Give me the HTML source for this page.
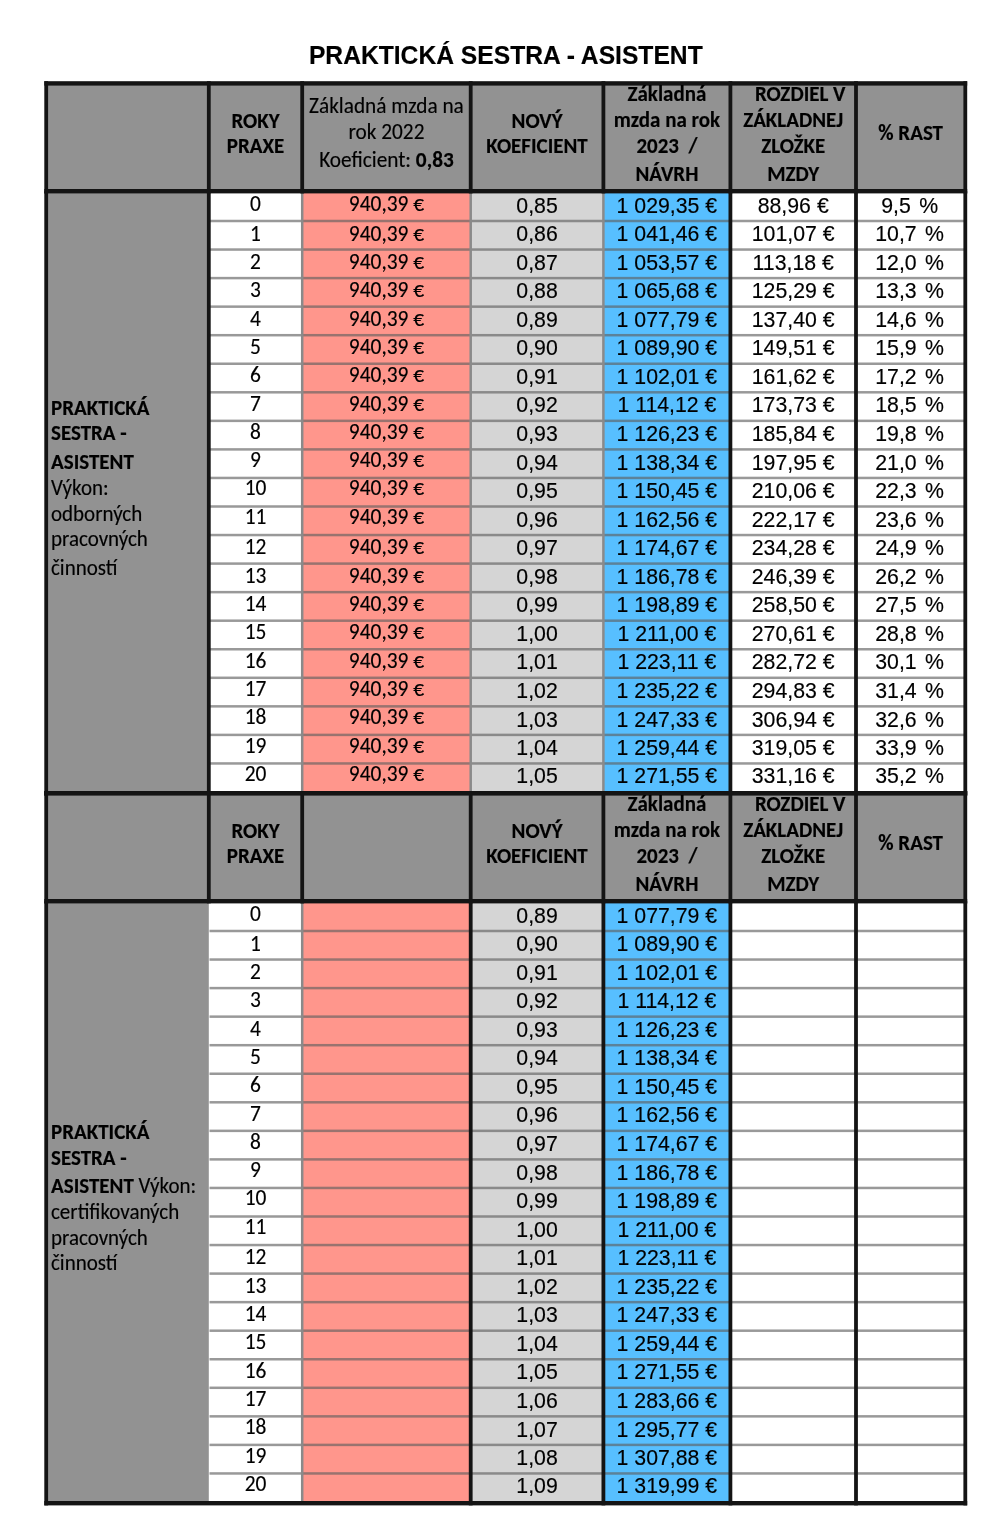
<!DOCTYPE html>
<html lang="sk"><head><meta charset="utf-8"><title>PRAKTICKÁ SESTRA - ASISTENT</title>
<style>
html,body{margin:0;padding:0;background:#fff;}
body{width:1000px;height:1540px;overflow:hidden;}
svg{display:block;filter:blur(0.6px);}
svg text{fill:#000;stroke:#000;stroke-width:0.15px;}
</style></head>
<body>
<svg width="1000" height="1540" viewBox="0 0 1000 1540">
<text textLength="393.81" lengthAdjust="spacingAndGlyphs" transform="translate(505.80 63.60) scale(1 1.06)" font-family="'Liberation Sans', Arial, sans-serif" font-size="24.65" font-weight="700" text-anchor="middle">PRAKTICKÁ SESTRA - ASISTENT</text>
<rect x="46.20" y="83.40" width="919.10" height="107.80" fill="#929292"/>
<rect x="46.20" y="191.20" width="162.60" height="602.00" fill="#929292"/>
<rect x="208.80" y="191.20" width="93.40" height="602.00" fill="#ffffff"/>
<rect x="302.20" y="191.20" width="168.50" height="602.00" fill="#ff968c"/>
<rect x="470.70" y="191.20" width="132.70" height="602.00" fill="#d5d5d5"/>
<rect x="603.40" y="191.20" width="127.00" height="602.00" fill="#57bfff"/>
<rect x="730.40" y="191.20" width="125.60" height="602.00" fill="#ffffff"/>
<rect x="856.00" y="191.20" width="109.30" height="602.00" fill="#ffffff"/>
<rect x="208.80" y="219.75" width="756.50" height="2.50" fill="rgba(95,95,95,0.64)"/>
<rect x="208.80" y="248.30" width="756.50" height="2.50" fill="rgba(95,95,95,0.64)"/>
<rect x="208.80" y="276.85" width="756.50" height="2.50" fill="rgba(95,95,95,0.64)"/>
<rect x="208.80" y="305.40" width="756.50" height="2.50" fill="rgba(95,95,95,0.64)"/>
<rect x="208.80" y="333.95" width="756.50" height="2.50" fill="rgba(95,95,95,0.64)"/>
<rect x="208.80" y="362.50" width="756.50" height="2.50" fill="rgba(95,95,95,0.64)"/>
<rect x="208.80" y="391.05" width="756.50" height="2.50" fill="rgba(95,95,95,0.64)"/>
<rect x="208.80" y="419.60" width="756.50" height="2.50" fill="rgba(95,95,95,0.64)"/>
<rect x="208.80" y="448.15" width="756.50" height="2.50" fill="rgba(95,95,95,0.64)"/>
<rect x="208.80" y="476.70" width="756.50" height="2.50" fill="rgba(95,95,95,0.64)"/>
<rect x="208.80" y="505.25" width="756.50" height="2.50" fill="rgba(95,95,95,0.64)"/>
<rect x="208.80" y="533.80" width="756.50" height="2.50" fill="rgba(95,95,95,0.64)"/>
<rect x="208.80" y="562.35" width="756.50" height="2.50" fill="rgba(95,95,95,0.64)"/>
<rect x="208.80" y="590.90" width="756.50" height="2.50" fill="rgba(95,95,95,0.64)"/>
<rect x="208.80" y="619.45" width="756.50" height="2.50" fill="rgba(95,95,95,0.64)"/>
<rect x="208.80" y="648.00" width="756.50" height="2.50" fill="rgba(95,95,95,0.64)"/>
<rect x="208.80" y="676.55" width="756.50" height="2.50" fill="rgba(95,95,95,0.64)"/>
<rect x="208.80" y="705.10" width="756.50" height="2.50" fill="rgba(95,95,95,0.64)"/>
<rect x="208.80" y="733.65" width="756.50" height="2.50" fill="rgba(95,95,95,0.64)"/>
<rect x="208.80" y="762.20" width="756.50" height="2.50" fill="rgba(95,95,95,0.64)"/>
<rect x="300.95" y="191.20" width="2.50" height="602.00" fill="#8a8a8a"/>
<rect x="469.45" y="191.20" width="2.50" height="602.00" fill="#8a8a8a"/>
<rect x="602.15" y="191.20" width="2.50" height="602.00" fill="#8a8a8a"/>
<rect x="44.30" y="81.20" width="3.80" height="112.20" fill="#141414"/>
<rect x="44.30" y="191.20" width="3.80" height="604.20" fill="#141414"/>
<rect x="206.90" y="81.20" width="3.80" height="112.20" fill="#141414"/>
<rect x="206.90" y="191.20" width="3.80" height="604.20" fill="#141414"/>
<rect x="300.30" y="81.20" width="3.80" height="112.20" fill="#141414"/>
<rect x="468.80" y="81.20" width="3.80" height="112.20" fill="#141414"/>
<rect x="601.50" y="81.20" width="3.80" height="112.20" fill="#141414"/>
<rect x="728.50" y="81.20" width="3.80" height="112.20" fill="#141414"/>
<rect x="728.50" y="191.20" width="3.80" height="604.20" fill="#141414"/>
<rect x="854.10" y="81.20" width="3.80" height="112.20" fill="#141414"/>
<rect x="854.10" y="191.20" width="3.80" height="604.20" fill="#141414"/>
<rect x="963.40" y="81.20" width="3.80" height="112.20" fill="#141414"/>
<rect x="963.40" y="191.20" width="3.80" height="604.20" fill="#141414"/>
<rect x="44.30" y="81.20" width="922.90" height="4.40" fill="#141414"/>
<rect x="44.30" y="189.00" width="922.90" height="4.40" fill="#141414"/>
<rect x="44.30" y="791.00" width="922.90" height="4.40" fill="#141414"/>
<rect x="46.20" y="793.40" width="919.10" height="107.80" fill="#929292"/>
<rect x="46.20" y="901.20" width="163.30" height="602.00" fill="#929292"/>
<rect x="208.80" y="901.20" width="93.40" height="602.00" fill="#ffffff"/>
<rect x="302.20" y="901.20" width="168.50" height="602.00" fill="#ff968c"/>
<rect x="470.70" y="901.20" width="132.70" height="602.00" fill="#d5d5d5"/>
<rect x="603.40" y="901.20" width="127.00" height="602.00" fill="#57bfff"/>
<rect x="730.40" y="901.20" width="125.60" height="602.00" fill="#ffffff"/>
<rect x="856.00" y="901.20" width="109.30" height="602.00" fill="#ffffff"/>
<rect x="209.50" y="929.75" width="755.80" height="2.50" fill="rgba(95,95,95,0.64)"/>
<rect x="209.50" y="958.30" width="755.80" height="2.50" fill="rgba(95,95,95,0.64)"/>
<rect x="209.50" y="986.85" width="755.80" height="2.50" fill="rgba(95,95,95,0.64)"/>
<rect x="209.50" y="1015.40" width="755.80" height="2.50" fill="rgba(95,95,95,0.64)"/>
<rect x="209.50" y="1043.95" width="755.80" height="2.50" fill="rgba(95,95,95,0.64)"/>
<rect x="209.50" y="1072.50" width="755.80" height="2.50" fill="rgba(95,95,95,0.64)"/>
<rect x="209.50" y="1101.05" width="755.80" height="2.50" fill="rgba(95,95,95,0.64)"/>
<rect x="209.50" y="1129.60" width="755.80" height="2.50" fill="rgba(95,95,95,0.64)"/>
<rect x="209.50" y="1158.15" width="755.80" height="2.50" fill="rgba(95,95,95,0.64)"/>
<rect x="209.50" y="1186.70" width="755.80" height="2.50" fill="rgba(95,95,95,0.64)"/>
<rect x="209.50" y="1215.25" width="755.80" height="2.50" fill="rgba(95,95,95,0.64)"/>
<rect x="209.50" y="1243.80" width="755.80" height="2.50" fill="rgba(95,95,95,0.64)"/>
<rect x="209.50" y="1272.35" width="755.80" height="2.50" fill="rgba(95,95,95,0.64)"/>
<rect x="209.50" y="1300.90" width="755.80" height="2.50" fill="rgba(95,95,95,0.64)"/>
<rect x="209.50" y="1329.45" width="755.80" height="2.50" fill="rgba(95,95,95,0.64)"/>
<rect x="209.50" y="1358.00" width="755.80" height="2.50" fill="rgba(95,95,95,0.64)"/>
<rect x="209.50" y="1386.55" width="755.80" height="2.50" fill="rgba(95,95,95,0.64)"/>
<rect x="209.50" y="1415.10" width="755.80" height="2.50" fill="rgba(95,95,95,0.64)"/>
<rect x="209.50" y="1443.65" width="755.80" height="2.50" fill="rgba(95,95,95,0.64)"/>
<rect x="209.50" y="1472.20" width="755.80" height="2.50" fill="rgba(95,95,95,0.64)"/>
<rect x="300.95" y="901.20" width="2.50" height="602.00" fill="#8a8a8a"/>
<rect x="44.30" y="791.20" width="3.80" height="112.20" fill="#141414"/>
<rect x="44.30" y="901.20" width="3.80" height="604.20" fill="#141414"/>
<rect x="206.90" y="791.20" width="3.80" height="112.20" fill="#141414"/>
<rect x="300.30" y="791.20" width="3.80" height="112.20" fill="#141414"/>
<rect x="468.80" y="791.20" width="3.80" height="112.20" fill="#141414"/>
<rect x="468.80" y="901.20" width="3.80" height="604.20" fill="#141414"/>
<rect x="601.50" y="791.20" width="3.80" height="112.20" fill="#141414"/>
<rect x="601.50" y="901.20" width="3.80" height="604.20" fill="#141414"/>
<rect x="728.50" y="791.20" width="3.80" height="112.20" fill="#141414"/>
<rect x="728.50" y="901.20" width="3.80" height="604.20" fill="#141414"/>
<rect x="854.10" y="791.20" width="3.80" height="112.20" fill="#141414"/>
<rect x="854.10" y="901.20" width="3.80" height="604.20" fill="#141414"/>
<rect x="963.40" y="791.20" width="3.80" height="112.20" fill="#141414"/>
<rect x="963.40" y="901.20" width="3.80" height="604.20" fill="#141414"/>
<rect x="44.30" y="791.20" width="922.90" height="4.40" fill="#141414"/>
<rect x="44.30" y="899.00" width="922.90" height="4.40" fill="#141414"/>
<rect x="44.30" y="1501.00" width="922.90" height="4.40" fill="#141414"/>
<text textLength="48.19" lengthAdjust="spacingAndGlyphs" transform="translate(255.50 127.50) scale(1 1.06)" font-family="Carlito, 'Liberation Sans', Arial, sans-serif" font-size="21" font-weight="700" text-anchor="middle">ROKY</text>
<text textLength="57.50" lengthAdjust="spacingAndGlyphs" transform="translate(255.50 153.20) scale(1 1.06)" font-family="Carlito, 'Liberation Sans', Arial, sans-serif" font-size="21" font-weight="700" text-anchor="middle">PRAXE</text>
<text textLength="154.73" lengthAdjust="spacingAndGlyphs" transform="translate(386.45 113.20) scale(1 1.06)" font-family="Carlito, 'Liberation Sans', Arial, sans-serif" font-size="21.3" font-weight="400" text-anchor="middle">Základná mzda na</text>
<text textLength="75.97" lengthAdjust="spacingAndGlyphs" transform="translate(386.45 139.20) scale(1 1.06)" font-family="Carlito, 'Liberation Sans', Arial, sans-serif" font-size="21.3" font-weight="400" text-anchor="middle">rok 2022</text>
<text textLength="134.56" lengthAdjust="spacingAndGlyphs" transform="translate(386.45 167.20) scale(1 1.06)" font-family="Carlito, 'Liberation Sans', Arial, sans-serif" font-size="21.3" text-anchor="middle">Koeficient: <tspan font-weight="700">0,83</tspan></text>
<text textLength="50.98" lengthAdjust="spacingAndGlyphs" transform="translate(537.05 127.50) scale(1 1.06)" font-family="Carlito, 'Liberation Sans', Arial, sans-serif" font-size="21" font-weight="700" text-anchor="middle">NOVÝ</text>
<text textLength="101.37" lengthAdjust="spacingAndGlyphs" transform="translate(537.05 153.20) scale(1 1.06)" font-family="Carlito, 'Liberation Sans', Arial, sans-serif" font-size="21" font-weight="700" text-anchor="middle">KOEFICIENT</text>
<text textLength="78.77" lengthAdjust="spacingAndGlyphs" transform="translate(666.90 101.00) scale(1 1.06)" font-family="Carlito, 'Liberation Sans', Arial, sans-serif" font-size="21" font-weight="700" text-anchor="middle">Základná</text>
<text textLength="106.33" lengthAdjust="spacingAndGlyphs" transform="translate(666.90 126.70) scale(1 1.06)" font-family="Carlito, 'Liberation Sans', Arial, sans-serif" font-size="21" font-weight="700" text-anchor="middle">mzda na rok</text>
<text textLength="61.06" lengthAdjust="spacingAndGlyphs" transform="translate(666.90 152.80) scale(1 1.06)" font-family="Carlito, 'Liberation Sans', Arial, sans-serif" font-size="21" font-weight="700" text-anchor="middle">2023&#160;&#160;/</text>
<text textLength="62.93" lengthAdjust="spacingAndGlyphs" transform="translate(666.90 180.60) scale(1 1.06)" font-family="Carlito, 'Liberation Sans', Arial, sans-serif" font-size="21" font-weight="700" text-anchor="middle">NÁVRH</text>
<text textLength="90.59" lengthAdjust="spacingAndGlyphs" transform="translate(800.20 101.20) scale(1 1.06)" font-family="Carlito, 'Liberation Sans', Arial, sans-serif" font-size="21" font-weight="700" text-anchor="middle">ROZDIEL V</text>
<text textLength="99.91" lengthAdjust="spacingAndGlyphs" transform="translate(793.20 126.60) scale(1 1.06)" font-family="Carlito, 'Liberation Sans', Arial, sans-serif" font-size="21" font-weight="700" text-anchor="middle">ZÁKLADNEJ</text>
<text textLength="64.14" lengthAdjust="spacingAndGlyphs" transform="translate(793.20 153.00) scale(1 1.06)" font-family="Carlito, 'Liberation Sans', Arial, sans-serif" font-size="21" font-weight="700" text-anchor="middle">ZLOŽKE</text>
<text textLength="51.95" lengthAdjust="spacingAndGlyphs" transform="translate(793.20 180.60) scale(1 1.06)" font-family="Carlito, 'Liberation Sans', Arial, sans-serif" font-size="21" font-weight="700" text-anchor="middle">MZDY</text>
<text textLength="64.69" lengthAdjust="spacingAndGlyphs" transform="translate(910.65 139.50) scale(1 1.06)" font-family="Carlito, 'Liberation Sans', Arial, sans-serif" font-size="21" font-weight="700" text-anchor="middle">% RAST</text>
<text textLength="48.19" lengthAdjust="spacingAndGlyphs" transform="translate(255.50 837.50) scale(1 1.06)" font-family="Carlito, 'Liberation Sans', Arial, sans-serif" font-size="21" font-weight="700" text-anchor="middle">ROKY</text>
<text textLength="57.50" lengthAdjust="spacingAndGlyphs" transform="translate(255.50 863.20) scale(1 1.06)" font-family="Carlito, 'Liberation Sans', Arial, sans-serif" font-size="21" font-weight="700" text-anchor="middle">PRAXE</text>
<text textLength="50.98" lengthAdjust="spacingAndGlyphs" transform="translate(537.05 837.50) scale(1 1.06)" font-family="Carlito, 'Liberation Sans', Arial, sans-serif" font-size="21" font-weight="700" text-anchor="middle">NOVÝ</text>
<text textLength="101.37" lengthAdjust="spacingAndGlyphs" transform="translate(537.05 863.20) scale(1 1.06)" font-family="Carlito, 'Liberation Sans', Arial, sans-serif" font-size="21" font-weight="700" text-anchor="middle">KOEFICIENT</text>
<text textLength="78.77" lengthAdjust="spacingAndGlyphs" transform="translate(666.90 811.00) scale(1 1.06)" font-family="Carlito, 'Liberation Sans', Arial, sans-serif" font-size="21" font-weight="700" text-anchor="middle">Základná</text>
<text textLength="106.33" lengthAdjust="spacingAndGlyphs" transform="translate(666.90 836.70) scale(1 1.06)" font-family="Carlito, 'Liberation Sans', Arial, sans-serif" font-size="21" font-weight="700" text-anchor="middle">mzda na rok</text>
<text textLength="61.06" lengthAdjust="spacingAndGlyphs" transform="translate(666.90 862.80) scale(1 1.06)" font-family="Carlito, 'Liberation Sans', Arial, sans-serif" font-size="21" font-weight="700" text-anchor="middle">2023&#160;&#160;/</text>
<text textLength="62.93" lengthAdjust="spacingAndGlyphs" transform="translate(666.90 890.60) scale(1 1.06)" font-family="Carlito, 'Liberation Sans', Arial, sans-serif" font-size="21" font-weight="700" text-anchor="middle">NÁVRH</text>
<text textLength="90.59" lengthAdjust="spacingAndGlyphs" transform="translate(800.20 811.20) scale(1 1.06)" font-family="Carlito, 'Liberation Sans', Arial, sans-serif" font-size="21" font-weight="700" text-anchor="middle">ROZDIEL V</text>
<text textLength="99.91" lengthAdjust="spacingAndGlyphs" transform="translate(793.20 836.60) scale(1 1.06)" font-family="Carlito, 'Liberation Sans', Arial, sans-serif" font-size="21" font-weight="700" text-anchor="middle">ZÁKLADNEJ</text>
<text textLength="64.14" lengthAdjust="spacingAndGlyphs" transform="translate(793.20 863.00) scale(1 1.06)" font-family="Carlito, 'Liberation Sans', Arial, sans-serif" font-size="21" font-weight="700" text-anchor="middle">ZLOŽKE</text>
<text textLength="51.95" lengthAdjust="spacingAndGlyphs" transform="translate(793.20 890.60) scale(1 1.06)" font-family="Carlito, 'Liberation Sans', Arial, sans-serif" font-size="21" font-weight="700" text-anchor="middle">MZDY</text>
<text textLength="64.69" lengthAdjust="spacingAndGlyphs" transform="translate(910.65 849.50) scale(1 1.06)" font-family="Carlito, 'Liberation Sans', Arial, sans-serif" font-size="21" font-weight="700" text-anchor="middle">% RAST</text>
<text textLength="10.86" lengthAdjust="spacingAndGlyphs" transform="translate(255.50 210.50) scale(1 1.06)" font-family="Carlito, 'Liberation Sans', Arial, sans-serif" font-size="21.4" font-weight="400" text-anchor="middle">0</text>
<text textLength="75.24" lengthAdjust="spacingAndGlyphs" transform="translate(386.45 210.50) scale(1 1.06)" font-family="Carlito, 'Liberation Sans', Arial, sans-serif" font-size="21.4" font-weight="400" text-anchor="middle">940,39 €</text>
<text textLength="41.44" lengthAdjust="spacingAndGlyphs" transform="translate(537.05 212.60) scale(1 1.06)" font-family="'Liberation Sans', Arial, sans-serif" font-size="21.3" font-weight="400" text-anchor="middle">0,85</text>
<text textLength="100.64" lengthAdjust="spacingAndGlyphs" transform="translate(666.90 212.60) scale(1 1.06)" font-family="'Liberation Sans', Arial, sans-serif" font-size="21.3" font-weight="400" text-anchor="middle">1 029,35 €</text>
<text textLength="71.04" lengthAdjust="spacingAndGlyphs" transform="translate(793.20 212.60) scale(1 1.06)" font-family="'Liberation Sans', Arial, sans-serif" font-size="21.3" font-weight="400" text-anchor="middle">88,96 €</text>
<text textLength="56.95" lengthAdjust="spacingAndGlyphs" transform="translate(909.65 212.60) scale(1 1.06)" font-family="'Liberation Sans', Arial, sans-serif" font-size="21.3" font-weight="400" text-anchor="middle">9,5 <tspan dx="2.5">%</tspan></text>
<text textLength="10.86" lengthAdjust="spacingAndGlyphs" transform="translate(255.50 920.50) scale(1 1.06)" font-family="Carlito, 'Liberation Sans', Arial, sans-serif" font-size="21.4" font-weight="400" text-anchor="middle">0</text>
<text textLength="41.44" lengthAdjust="spacingAndGlyphs" transform="translate(537.05 922.60) scale(1 1.06)" font-family="'Liberation Sans', Arial, sans-serif" font-size="21.3" font-weight="400" text-anchor="middle">0,89</text>
<text textLength="100.64" lengthAdjust="spacingAndGlyphs" transform="translate(666.90 922.60) scale(1 1.06)" font-family="'Liberation Sans', Arial, sans-serif" font-size="21.3" font-weight="400" text-anchor="middle">1 077,79 €</text>
<text textLength="10.86" lengthAdjust="spacingAndGlyphs" transform="translate(255.50 240.70) scale(1 1.06)" font-family="Carlito, 'Liberation Sans', Arial, sans-serif" font-size="21.4" font-weight="400" text-anchor="middle">1</text>
<text textLength="75.24" lengthAdjust="spacingAndGlyphs" transform="translate(386.45 240.70) scale(1 1.06)" font-family="Carlito, 'Liberation Sans', Arial, sans-serif" font-size="21.4" font-weight="400" text-anchor="middle">940,39 €</text>
<text textLength="41.44" lengthAdjust="spacingAndGlyphs" transform="translate(537.05 241.15) scale(1 1.06)" font-family="'Liberation Sans', Arial, sans-serif" font-size="21.3" font-weight="400" text-anchor="middle">0,86</text>
<text textLength="100.64" lengthAdjust="spacingAndGlyphs" transform="translate(666.90 241.15) scale(1 1.06)" font-family="'Liberation Sans', Arial, sans-serif" font-size="21.3" font-weight="400" text-anchor="middle">1 041,46 €</text>
<text textLength="82.88" lengthAdjust="spacingAndGlyphs" transform="translate(793.20 241.15) scale(1 1.06)" font-family="'Liberation Sans', Arial, sans-serif" font-size="21.3" font-weight="400" text-anchor="middle">101,07 €</text>
<text textLength="68.79" lengthAdjust="spacingAndGlyphs" transform="translate(909.65 241.15) scale(1 1.06)" font-family="'Liberation Sans', Arial, sans-serif" font-size="21.3" font-weight="400" text-anchor="middle">10,7 <tspan dx="2.5">%</tspan></text>
<text textLength="10.86" lengthAdjust="spacingAndGlyphs" transform="translate(255.50 950.70) scale(1 1.06)" font-family="Carlito, 'Liberation Sans', Arial, sans-serif" font-size="21.4" font-weight="400" text-anchor="middle">1</text>
<text textLength="41.44" lengthAdjust="spacingAndGlyphs" transform="translate(537.05 951.15) scale(1 1.06)" font-family="'Liberation Sans', Arial, sans-serif" font-size="21.3" font-weight="400" text-anchor="middle">0,90</text>
<text textLength="100.64" lengthAdjust="spacingAndGlyphs" transform="translate(666.90 951.15) scale(1 1.06)" font-family="'Liberation Sans', Arial, sans-serif" font-size="21.3" font-weight="400" text-anchor="middle">1 089,90 €</text>
<text textLength="10.86" lengthAdjust="spacingAndGlyphs" transform="translate(255.50 269.00) scale(1 1.06)" font-family="Carlito, 'Liberation Sans', Arial, sans-serif" font-size="21.4" font-weight="400" text-anchor="middle">2</text>
<text textLength="75.24" lengthAdjust="spacingAndGlyphs" transform="translate(386.45 269.00) scale(1 1.06)" font-family="Carlito, 'Liberation Sans', Arial, sans-serif" font-size="21.4" font-weight="400" text-anchor="middle">940,39 €</text>
<text textLength="41.44" lengthAdjust="spacingAndGlyphs" transform="translate(537.05 269.70) scale(1 1.06)" font-family="'Liberation Sans', Arial, sans-serif" font-size="21.3" font-weight="400" text-anchor="middle">0,87</text>
<text textLength="100.64" lengthAdjust="spacingAndGlyphs" transform="translate(666.90 269.70) scale(1 1.06)" font-family="'Liberation Sans', Arial, sans-serif" font-size="21.3" font-weight="400" text-anchor="middle">1 053,57 €</text>
<text textLength="81.29" lengthAdjust="spacingAndGlyphs" transform="translate(793.20 269.70) scale(1 1.06)" font-family="'Liberation Sans', Arial, sans-serif" font-size="21.3" font-weight="400" text-anchor="middle">113,18 €</text>
<text textLength="68.79" lengthAdjust="spacingAndGlyphs" transform="translate(909.65 269.70) scale(1 1.06)" font-family="'Liberation Sans', Arial, sans-serif" font-size="21.3" font-weight="400" text-anchor="middle">12,0 <tspan dx="2.5">%</tspan></text>
<text textLength="10.86" lengthAdjust="spacingAndGlyphs" transform="translate(255.50 979.00) scale(1 1.06)" font-family="Carlito, 'Liberation Sans', Arial, sans-serif" font-size="21.4" font-weight="400" text-anchor="middle">2</text>
<text textLength="41.44" lengthAdjust="spacingAndGlyphs" transform="translate(537.05 979.70) scale(1 1.06)" font-family="'Liberation Sans', Arial, sans-serif" font-size="21.3" font-weight="400" text-anchor="middle">0,91</text>
<text textLength="100.64" lengthAdjust="spacingAndGlyphs" transform="translate(666.90 979.70) scale(1 1.06)" font-family="'Liberation Sans', Arial, sans-serif" font-size="21.3" font-weight="400" text-anchor="middle">1 102,01 €</text>
<text textLength="10.86" lengthAdjust="spacingAndGlyphs" transform="translate(255.50 297.30) scale(1 1.06)" font-family="Carlito, 'Liberation Sans', Arial, sans-serif" font-size="21.4" font-weight="400" text-anchor="middle">3</text>
<text textLength="75.24" lengthAdjust="spacingAndGlyphs" transform="translate(386.45 297.30) scale(1 1.06)" font-family="Carlito, 'Liberation Sans', Arial, sans-serif" font-size="21.4" font-weight="400" text-anchor="middle">940,39 €</text>
<text textLength="41.44" lengthAdjust="spacingAndGlyphs" transform="translate(537.05 298.25) scale(1 1.06)" font-family="'Liberation Sans', Arial, sans-serif" font-size="21.3" font-weight="400" text-anchor="middle">0,88</text>
<text textLength="100.64" lengthAdjust="spacingAndGlyphs" transform="translate(666.90 298.25) scale(1 1.06)" font-family="'Liberation Sans', Arial, sans-serif" font-size="21.3" font-weight="400" text-anchor="middle">1 065,68 €</text>
<text textLength="82.88" lengthAdjust="spacingAndGlyphs" transform="translate(793.20 298.25) scale(1 1.06)" font-family="'Liberation Sans', Arial, sans-serif" font-size="21.3" font-weight="400" text-anchor="middle">125,29 €</text>
<text textLength="68.79" lengthAdjust="spacingAndGlyphs" transform="translate(909.65 298.25) scale(1 1.06)" font-family="'Liberation Sans', Arial, sans-serif" font-size="21.3" font-weight="400" text-anchor="middle">13,3 <tspan dx="2.5">%</tspan></text>
<text textLength="10.86" lengthAdjust="spacingAndGlyphs" transform="translate(255.50 1007.30) scale(1 1.06)" font-family="Carlito, 'Liberation Sans', Arial, sans-serif" font-size="21.4" font-weight="400" text-anchor="middle">3</text>
<text textLength="41.44" lengthAdjust="spacingAndGlyphs" transform="translate(537.05 1008.25) scale(1 1.06)" font-family="'Liberation Sans', Arial, sans-serif" font-size="21.3" font-weight="400" text-anchor="middle">0,92</text>
<text textLength="99.05" lengthAdjust="spacingAndGlyphs" transform="translate(666.90 1008.25) scale(1 1.06)" font-family="'Liberation Sans', Arial, sans-serif" font-size="21.3" font-weight="400" text-anchor="middle">1 114,12 €</text>
<text textLength="10.86" lengthAdjust="spacingAndGlyphs" transform="translate(255.50 325.60) scale(1 1.06)" font-family="Carlito, 'Liberation Sans', Arial, sans-serif" font-size="21.4" font-weight="400" text-anchor="middle">4</text>
<text textLength="75.24" lengthAdjust="spacingAndGlyphs" transform="translate(386.45 325.60) scale(1 1.06)" font-family="Carlito, 'Liberation Sans', Arial, sans-serif" font-size="21.4" font-weight="400" text-anchor="middle">940,39 €</text>
<text textLength="41.44" lengthAdjust="spacingAndGlyphs" transform="translate(537.05 326.80) scale(1 1.06)" font-family="'Liberation Sans', Arial, sans-serif" font-size="21.3" font-weight="400" text-anchor="middle">0,89</text>
<text textLength="100.64" lengthAdjust="spacingAndGlyphs" transform="translate(666.90 326.80) scale(1 1.06)" font-family="'Liberation Sans', Arial, sans-serif" font-size="21.3" font-weight="400" text-anchor="middle">1 077,79 €</text>
<text textLength="82.88" lengthAdjust="spacingAndGlyphs" transform="translate(793.20 326.80) scale(1 1.06)" font-family="'Liberation Sans', Arial, sans-serif" font-size="21.3" font-weight="400" text-anchor="middle">137,40 €</text>
<text textLength="68.79" lengthAdjust="spacingAndGlyphs" transform="translate(909.65 326.80) scale(1 1.06)" font-family="'Liberation Sans', Arial, sans-serif" font-size="21.3" font-weight="400" text-anchor="middle">14,6 <tspan dx="2.5">%</tspan></text>
<text textLength="10.86" lengthAdjust="spacingAndGlyphs" transform="translate(255.50 1035.60) scale(1 1.06)" font-family="Carlito, 'Liberation Sans', Arial, sans-serif" font-size="21.4" font-weight="400" text-anchor="middle">4</text>
<text textLength="41.44" lengthAdjust="spacingAndGlyphs" transform="translate(537.05 1036.80) scale(1 1.06)" font-family="'Liberation Sans', Arial, sans-serif" font-size="21.3" font-weight="400" text-anchor="middle">0,93</text>
<text textLength="100.64" lengthAdjust="spacingAndGlyphs" transform="translate(666.90 1036.80) scale(1 1.06)" font-family="'Liberation Sans', Arial, sans-serif" font-size="21.3" font-weight="400" text-anchor="middle">1 126,23 €</text>
<text textLength="10.86" lengthAdjust="spacingAndGlyphs" transform="translate(255.50 353.90) scale(1 1.06)" font-family="Carlito, 'Liberation Sans', Arial, sans-serif" font-size="21.4" font-weight="400" text-anchor="middle">5</text>
<text textLength="75.24" lengthAdjust="spacingAndGlyphs" transform="translate(386.45 353.90) scale(1 1.06)" font-family="Carlito, 'Liberation Sans', Arial, sans-serif" font-size="21.4" font-weight="400" text-anchor="middle">940,39 €</text>
<text textLength="41.44" lengthAdjust="spacingAndGlyphs" transform="translate(537.05 355.35) scale(1 1.06)" font-family="'Liberation Sans', Arial, sans-serif" font-size="21.3" font-weight="400" text-anchor="middle">0,90</text>
<text textLength="100.64" lengthAdjust="spacingAndGlyphs" transform="translate(666.90 355.35) scale(1 1.06)" font-family="'Liberation Sans', Arial, sans-serif" font-size="21.3" font-weight="400" text-anchor="middle">1 089,90 €</text>
<text textLength="82.88" lengthAdjust="spacingAndGlyphs" transform="translate(793.20 355.35) scale(1 1.06)" font-family="'Liberation Sans', Arial, sans-serif" font-size="21.3" font-weight="400" text-anchor="middle">149,51 €</text>
<text textLength="68.79" lengthAdjust="spacingAndGlyphs" transform="translate(909.65 355.35) scale(1 1.06)" font-family="'Liberation Sans', Arial, sans-serif" font-size="21.3" font-weight="400" text-anchor="middle">15,9 <tspan dx="2.5">%</tspan></text>
<text textLength="10.86" lengthAdjust="spacingAndGlyphs" transform="translate(255.50 1063.90) scale(1 1.06)" font-family="Carlito, 'Liberation Sans', Arial, sans-serif" font-size="21.4" font-weight="400" text-anchor="middle">5</text>
<text textLength="41.44" lengthAdjust="spacingAndGlyphs" transform="translate(537.05 1065.35) scale(1 1.06)" font-family="'Liberation Sans', Arial, sans-serif" font-size="21.3" font-weight="400" text-anchor="middle">0,94</text>
<text textLength="100.64" lengthAdjust="spacingAndGlyphs" transform="translate(666.90 1065.35) scale(1 1.06)" font-family="'Liberation Sans', Arial, sans-serif" font-size="21.3" font-weight="400" text-anchor="middle">1 138,34 €</text>
<text textLength="10.86" lengthAdjust="spacingAndGlyphs" transform="translate(255.50 382.20) scale(1 1.06)" font-family="Carlito, 'Liberation Sans', Arial, sans-serif" font-size="21.4" font-weight="400" text-anchor="middle">6</text>
<text textLength="75.24" lengthAdjust="spacingAndGlyphs" transform="translate(386.45 382.20) scale(1 1.06)" font-family="Carlito, 'Liberation Sans', Arial, sans-serif" font-size="21.4" font-weight="400" text-anchor="middle">940,39 €</text>
<text textLength="41.44" lengthAdjust="spacingAndGlyphs" transform="translate(537.05 383.90) scale(1 1.06)" font-family="'Liberation Sans', Arial, sans-serif" font-size="21.3" font-weight="400" text-anchor="middle">0,91</text>
<text textLength="100.64" lengthAdjust="spacingAndGlyphs" transform="translate(666.90 383.90) scale(1 1.06)" font-family="'Liberation Sans', Arial, sans-serif" font-size="21.3" font-weight="400" text-anchor="middle">1 102,01 €</text>
<text textLength="82.88" lengthAdjust="spacingAndGlyphs" transform="translate(793.20 383.90) scale(1 1.06)" font-family="'Liberation Sans', Arial, sans-serif" font-size="21.3" font-weight="400" text-anchor="middle">161,62 €</text>
<text textLength="68.79" lengthAdjust="spacingAndGlyphs" transform="translate(909.65 383.90) scale(1 1.06)" font-family="'Liberation Sans', Arial, sans-serif" font-size="21.3" font-weight="400" text-anchor="middle">17,2 <tspan dx="2.5">%</tspan></text>
<text textLength="10.86" lengthAdjust="spacingAndGlyphs" transform="translate(255.50 1092.20) scale(1 1.06)" font-family="Carlito, 'Liberation Sans', Arial, sans-serif" font-size="21.4" font-weight="400" text-anchor="middle">6</text>
<text textLength="41.44" lengthAdjust="spacingAndGlyphs" transform="translate(537.05 1093.90) scale(1 1.06)" font-family="'Liberation Sans', Arial, sans-serif" font-size="21.3" font-weight="400" text-anchor="middle">0,95</text>
<text textLength="100.64" lengthAdjust="spacingAndGlyphs" transform="translate(666.90 1093.90) scale(1 1.06)" font-family="'Liberation Sans', Arial, sans-serif" font-size="21.3" font-weight="400" text-anchor="middle">1 150,45 €</text>
<text textLength="10.86" lengthAdjust="spacingAndGlyphs" transform="translate(255.50 410.50) scale(1 1.06)" font-family="Carlito, 'Liberation Sans', Arial, sans-serif" font-size="21.4" font-weight="400" text-anchor="middle">7</text>
<text textLength="75.24" lengthAdjust="spacingAndGlyphs" transform="translate(386.45 410.50) scale(1 1.06)" font-family="Carlito, 'Liberation Sans', Arial, sans-serif" font-size="21.4" font-weight="400" text-anchor="middle">940,39 €</text>
<text textLength="41.44" lengthAdjust="spacingAndGlyphs" transform="translate(537.05 412.45) scale(1 1.06)" font-family="'Liberation Sans', Arial, sans-serif" font-size="21.3" font-weight="400" text-anchor="middle">0,92</text>
<text textLength="99.05" lengthAdjust="spacingAndGlyphs" transform="translate(666.90 412.45) scale(1 1.06)" font-family="'Liberation Sans', Arial, sans-serif" font-size="21.3" font-weight="400" text-anchor="middle">1 114,12 €</text>
<text textLength="82.88" lengthAdjust="spacingAndGlyphs" transform="translate(793.20 412.45) scale(1 1.06)" font-family="'Liberation Sans', Arial, sans-serif" font-size="21.3" font-weight="400" text-anchor="middle">173,73 €</text>
<text textLength="68.79" lengthAdjust="spacingAndGlyphs" transform="translate(909.65 412.45) scale(1 1.06)" font-family="'Liberation Sans', Arial, sans-serif" font-size="21.3" font-weight="400" text-anchor="middle">18,5 <tspan dx="2.5">%</tspan></text>
<text textLength="10.86" lengthAdjust="spacingAndGlyphs" transform="translate(255.50 1120.50) scale(1 1.06)" font-family="Carlito, 'Liberation Sans', Arial, sans-serif" font-size="21.4" font-weight="400" text-anchor="middle">7</text>
<text textLength="41.44" lengthAdjust="spacingAndGlyphs" transform="translate(537.05 1122.45) scale(1 1.06)" font-family="'Liberation Sans', Arial, sans-serif" font-size="21.3" font-weight="400" text-anchor="middle">0,96</text>
<text textLength="100.64" lengthAdjust="spacingAndGlyphs" transform="translate(666.90 1122.45) scale(1 1.06)" font-family="'Liberation Sans', Arial, sans-serif" font-size="21.3" font-weight="400" text-anchor="middle">1 162,56 €</text>
<text textLength="10.86" lengthAdjust="spacingAndGlyphs" transform="translate(255.50 438.80) scale(1 1.06)" font-family="Carlito, 'Liberation Sans', Arial, sans-serif" font-size="21.4" font-weight="400" text-anchor="middle">8</text>
<text textLength="75.24" lengthAdjust="spacingAndGlyphs" transform="translate(386.45 438.80) scale(1 1.06)" font-family="Carlito, 'Liberation Sans', Arial, sans-serif" font-size="21.4" font-weight="400" text-anchor="middle">940,39 €</text>
<text textLength="41.44" lengthAdjust="spacingAndGlyphs" transform="translate(537.05 441.00) scale(1 1.06)" font-family="'Liberation Sans', Arial, sans-serif" font-size="21.3" font-weight="400" text-anchor="middle">0,93</text>
<text textLength="100.64" lengthAdjust="spacingAndGlyphs" transform="translate(666.90 441.00) scale(1 1.06)" font-family="'Liberation Sans', Arial, sans-serif" font-size="21.3" font-weight="400" text-anchor="middle">1 126,23 €</text>
<text textLength="82.88" lengthAdjust="spacingAndGlyphs" transform="translate(793.20 441.00) scale(1 1.06)" font-family="'Liberation Sans', Arial, sans-serif" font-size="21.3" font-weight="400" text-anchor="middle">185,84 €</text>
<text textLength="68.79" lengthAdjust="spacingAndGlyphs" transform="translate(909.65 441.00) scale(1 1.06)" font-family="'Liberation Sans', Arial, sans-serif" font-size="21.3" font-weight="400" text-anchor="middle">19,8 <tspan dx="2.5">%</tspan></text>
<text textLength="10.86" lengthAdjust="spacingAndGlyphs" transform="translate(255.50 1148.80) scale(1 1.06)" font-family="Carlito, 'Liberation Sans', Arial, sans-serif" font-size="21.4" font-weight="400" text-anchor="middle">8</text>
<text textLength="41.44" lengthAdjust="spacingAndGlyphs" transform="translate(537.05 1151.00) scale(1 1.06)" font-family="'Liberation Sans', Arial, sans-serif" font-size="21.3" font-weight="400" text-anchor="middle">0,97</text>
<text textLength="100.64" lengthAdjust="spacingAndGlyphs" transform="translate(666.90 1151.00) scale(1 1.06)" font-family="'Liberation Sans', Arial, sans-serif" font-size="21.3" font-weight="400" text-anchor="middle">1 174,67 €</text>
<text textLength="10.86" lengthAdjust="spacingAndGlyphs" transform="translate(255.50 467.10) scale(1 1.06)" font-family="Carlito, 'Liberation Sans', Arial, sans-serif" font-size="21.4" font-weight="400" text-anchor="middle">9</text>
<text textLength="75.24" lengthAdjust="spacingAndGlyphs" transform="translate(386.45 467.10) scale(1 1.06)" font-family="Carlito, 'Liberation Sans', Arial, sans-serif" font-size="21.4" font-weight="400" text-anchor="middle">940,39 €</text>
<text textLength="41.44" lengthAdjust="spacingAndGlyphs" transform="translate(537.05 469.55) scale(1 1.06)" font-family="'Liberation Sans', Arial, sans-serif" font-size="21.3" font-weight="400" text-anchor="middle">0,94</text>
<text textLength="100.64" lengthAdjust="spacingAndGlyphs" transform="translate(666.90 469.55) scale(1 1.06)" font-family="'Liberation Sans', Arial, sans-serif" font-size="21.3" font-weight="400" text-anchor="middle">1 138,34 €</text>
<text textLength="82.88" lengthAdjust="spacingAndGlyphs" transform="translate(793.20 469.55) scale(1 1.06)" font-family="'Liberation Sans', Arial, sans-serif" font-size="21.3" font-weight="400" text-anchor="middle">197,95 €</text>
<text textLength="68.79" lengthAdjust="spacingAndGlyphs" transform="translate(909.65 469.55) scale(1 1.06)" font-family="'Liberation Sans', Arial, sans-serif" font-size="21.3" font-weight="400" text-anchor="middle">21,0 <tspan dx="2.5">%</tspan></text>
<text textLength="10.86" lengthAdjust="spacingAndGlyphs" transform="translate(255.50 1177.10) scale(1 1.06)" font-family="Carlito, 'Liberation Sans', Arial, sans-serif" font-size="21.4" font-weight="400" text-anchor="middle">9</text>
<text textLength="41.44" lengthAdjust="spacingAndGlyphs" transform="translate(537.05 1179.55) scale(1 1.06)" font-family="'Liberation Sans', Arial, sans-serif" font-size="21.3" font-weight="400" text-anchor="middle">0,98</text>
<text textLength="100.64" lengthAdjust="spacingAndGlyphs" transform="translate(666.90 1179.55) scale(1 1.06)" font-family="'Liberation Sans', Arial, sans-serif" font-size="21.3" font-weight="400" text-anchor="middle">1 186,78 €</text>
<text textLength="21.70" lengthAdjust="spacingAndGlyphs" transform="translate(255.50 495.40) scale(1 1.06)" font-family="Carlito, 'Liberation Sans', Arial, sans-serif" font-size="21.4" font-weight="400" text-anchor="middle">10</text>
<text textLength="75.24" lengthAdjust="spacingAndGlyphs" transform="translate(386.45 495.40) scale(1 1.06)" font-family="Carlito, 'Liberation Sans', Arial, sans-serif" font-size="21.4" font-weight="400" text-anchor="middle">940,39 €</text>
<text textLength="41.44" lengthAdjust="spacingAndGlyphs" transform="translate(537.05 498.10) scale(1 1.06)" font-family="'Liberation Sans', Arial, sans-serif" font-size="21.3" font-weight="400" text-anchor="middle">0,95</text>
<text textLength="100.64" lengthAdjust="spacingAndGlyphs" transform="translate(666.90 498.10) scale(1 1.06)" font-family="'Liberation Sans', Arial, sans-serif" font-size="21.3" font-weight="400" text-anchor="middle">1 150,45 €</text>
<text textLength="82.88" lengthAdjust="spacingAndGlyphs" transform="translate(793.20 498.10) scale(1 1.06)" font-family="'Liberation Sans', Arial, sans-serif" font-size="21.3" font-weight="400" text-anchor="middle">210,06 €</text>
<text textLength="68.79" lengthAdjust="spacingAndGlyphs" transform="translate(909.65 498.10) scale(1 1.06)" font-family="'Liberation Sans', Arial, sans-serif" font-size="21.3" font-weight="400" text-anchor="middle">22,3 <tspan dx="2.5">%</tspan></text>
<text textLength="21.70" lengthAdjust="spacingAndGlyphs" transform="translate(255.50 1205.40) scale(1 1.06)" font-family="Carlito, 'Liberation Sans', Arial, sans-serif" font-size="21.4" font-weight="400" text-anchor="middle">10</text>
<text textLength="41.44" lengthAdjust="spacingAndGlyphs" transform="translate(537.05 1208.10) scale(1 1.06)" font-family="'Liberation Sans', Arial, sans-serif" font-size="21.3" font-weight="400" text-anchor="middle">0,99</text>
<text textLength="100.64" lengthAdjust="spacingAndGlyphs" transform="translate(666.90 1208.10) scale(1 1.06)" font-family="'Liberation Sans', Arial, sans-serif" font-size="21.3" font-weight="400" text-anchor="middle">1 198,89 €</text>
<text textLength="21.70" lengthAdjust="spacingAndGlyphs" transform="translate(255.50 523.70) scale(1 1.06)" font-family="Carlito, 'Liberation Sans', Arial, sans-serif" font-size="21.4" font-weight="400" text-anchor="middle">11</text>
<text textLength="75.24" lengthAdjust="spacingAndGlyphs" transform="translate(386.45 523.70) scale(1 1.06)" font-family="Carlito, 'Liberation Sans', Arial, sans-serif" font-size="21.4" font-weight="400" text-anchor="middle">940,39 €</text>
<text textLength="41.44" lengthAdjust="spacingAndGlyphs" transform="translate(537.05 526.65) scale(1 1.06)" font-family="'Liberation Sans', Arial, sans-serif" font-size="21.3" font-weight="400" text-anchor="middle">0,96</text>
<text textLength="100.64" lengthAdjust="spacingAndGlyphs" transform="translate(666.90 526.65) scale(1 1.06)" font-family="'Liberation Sans', Arial, sans-serif" font-size="21.3" font-weight="400" text-anchor="middle">1 162,56 €</text>
<text textLength="82.88" lengthAdjust="spacingAndGlyphs" transform="translate(793.20 526.65) scale(1 1.06)" font-family="'Liberation Sans', Arial, sans-serif" font-size="21.3" font-weight="400" text-anchor="middle">222,17 €</text>
<text textLength="68.79" lengthAdjust="spacingAndGlyphs" transform="translate(909.65 526.65) scale(1 1.06)" font-family="'Liberation Sans', Arial, sans-serif" font-size="21.3" font-weight="400" text-anchor="middle">23,6 <tspan dx="2.5">%</tspan></text>
<text textLength="21.70" lengthAdjust="spacingAndGlyphs" transform="translate(255.50 1233.70) scale(1 1.06)" font-family="Carlito, 'Liberation Sans', Arial, sans-serif" font-size="21.4" font-weight="400" text-anchor="middle">11</text>
<text textLength="41.44" lengthAdjust="spacingAndGlyphs" transform="translate(537.05 1236.65) scale(1 1.06)" font-family="'Liberation Sans', Arial, sans-serif" font-size="21.3" font-weight="400" text-anchor="middle">1,00</text>
<text textLength="99.05" lengthAdjust="spacingAndGlyphs" transform="translate(666.90 1236.65) scale(1 1.06)" font-family="'Liberation Sans', Arial, sans-serif" font-size="21.3" font-weight="400" text-anchor="middle">1 211,00 €</text>
<text textLength="21.70" lengthAdjust="spacingAndGlyphs" transform="translate(255.50 554.40) scale(1 1.06)" font-family="Carlito, 'Liberation Sans', Arial, sans-serif" font-size="21.4" font-weight="400" text-anchor="middle">12</text>
<text textLength="75.24" lengthAdjust="spacingAndGlyphs" transform="translate(386.45 554.40) scale(1 1.06)" font-family="Carlito, 'Liberation Sans', Arial, sans-serif" font-size="21.4" font-weight="400" text-anchor="middle">940,39 €</text>
<text textLength="41.44" lengthAdjust="spacingAndGlyphs" transform="translate(537.05 555.20) scale(1 1.06)" font-family="'Liberation Sans', Arial, sans-serif" font-size="21.3" font-weight="400" text-anchor="middle">0,97</text>
<text textLength="100.64" lengthAdjust="spacingAndGlyphs" transform="translate(666.90 555.20) scale(1 1.06)" font-family="'Liberation Sans', Arial, sans-serif" font-size="21.3" font-weight="400" text-anchor="middle">1 174,67 €</text>
<text textLength="82.88" lengthAdjust="spacingAndGlyphs" transform="translate(793.20 555.20) scale(1 1.06)" font-family="'Liberation Sans', Arial, sans-serif" font-size="21.3" font-weight="400" text-anchor="middle">234,28 €</text>
<text textLength="68.79" lengthAdjust="spacingAndGlyphs" transform="translate(909.65 555.20) scale(1 1.06)" font-family="'Liberation Sans', Arial, sans-serif" font-size="21.3" font-weight="400" text-anchor="middle">24,9 <tspan dx="2.5">%</tspan></text>
<text textLength="21.70" lengthAdjust="spacingAndGlyphs" transform="translate(255.50 1264.40) scale(1 1.06)" font-family="Carlito, 'Liberation Sans', Arial, sans-serif" font-size="21.4" font-weight="400" text-anchor="middle">12</text>
<text textLength="41.44" lengthAdjust="spacingAndGlyphs" transform="translate(537.05 1265.20) scale(1 1.06)" font-family="'Liberation Sans', Arial, sans-serif" font-size="21.3" font-weight="400" text-anchor="middle">1,01</text>
<text textLength="99.05" lengthAdjust="spacingAndGlyphs" transform="translate(666.90 1265.20) scale(1 1.06)" font-family="'Liberation Sans', Arial, sans-serif" font-size="21.3" font-weight="400" text-anchor="middle">1 223,11 €</text>
<text textLength="21.70" lengthAdjust="spacingAndGlyphs" transform="translate(255.50 582.70) scale(1 1.06)" font-family="Carlito, 'Liberation Sans', Arial, sans-serif" font-size="21.4" font-weight="400" text-anchor="middle">13</text>
<text textLength="75.24" lengthAdjust="spacingAndGlyphs" transform="translate(386.45 582.70) scale(1 1.06)" font-family="Carlito, 'Liberation Sans', Arial, sans-serif" font-size="21.4" font-weight="400" text-anchor="middle">940,39 €</text>
<text textLength="41.44" lengthAdjust="spacingAndGlyphs" transform="translate(537.05 583.75) scale(1 1.06)" font-family="'Liberation Sans', Arial, sans-serif" font-size="21.3" font-weight="400" text-anchor="middle">0,98</text>
<text textLength="100.64" lengthAdjust="spacingAndGlyphs" transform="translate(666.90 583.75) scale(1 1.06)" font-family="'Liberation Sans', Arial, sans-serif" font-size="21.3" font-weight="400" text-anchor="middle">1 186,78 €</text>
<text textLength="82.88" lengthAdjust="spacingAndGlyphs" transform="translate(793.20 583.75) scale(1 1.06)" font-family="'Liberation Sans', Arial, sans-serif" font-size="21.3" font-weight="400" text-anchor="middle">246,39 €</text>
<text textLength="68.79" lengthAdjust="spacingAndGlyphs" transform="translate(909.65 583.75) scale(1 1.06)" font-family="'Liberation Sans', Arial, sans-serif" font-size="21.3" font-weight="400" text-anchor="middle">26,2 <tspan dx="2.5">%</tspan></text>
<text textLength="21.70" lengthAdjust="spacingAndGlyphs" transform="translate(255.50 1292.70) scale(1 1.06)" font-family="Carlito, 'Liberation Sans', Arial, sans-serif" font-size="21.4" font-weight="400" text-anchor="middle">13</text>
<text textLength="41.44" lengthAdjust="spacingAndGlyphs" transform="translate(537.05 1293.75) scale(1 1.06)" font-family="'Liberation Sans', Arial, sans-serif" font-size="21.3" font-weight="400" text-anchor="middle">1,02</text>
<text textLength="100.64" lengthAdjust="spacingAndGlyphs" transform="translate(666.90 1293.75) scale(1 1.06)" font-family="'Liberation Sans', Arial, sans-serif" font-size="21.3" font-weight="400" text-anchor="middle">1 235,22 €</text>
<text textLength="21.70" lengthAdjust="spacingAndGlyphs" transform="translate(255.50 611.00) scale(1 1.06)" font-family="Carlito, 'Liberation Sans', Arial, sans-serif" font-size="21.4" font-weight="400" text-anchor="middle">14</text>
<text textLength="75.24" lengthAdjust="spacingAndGlyphs" transform="translate(386.45 611.00) scale(1 1.06)" font-family="Carlito, 'Liberation Sans', Arial, sans-serif" font-size="21.4" font-weight="400" text-anchor="middle">940,39 €</text>
<text textLength="41.44" lengthAdjust="spacingAndGlyphs" transform="translate(537.05 612.30) scale(1 1.06)" font-family="'Liberation Sans', Arial, sans-serif" font-size="21.3" font-weight="400" text-anchor="middle">0,99</text>
<text textLength="100.64" lengthAdjust="spacingAndGlyphs" transform="translate(666.90 612.30) scale(1 1.06)" font-family="'Liberation Sans', Arial, sans-serif" font-size="21.3" font-weight="400" text-anchor="middle">1 198,89 €</text>
<text textLength="82.88" lengthAdjust="spacingAndGlyphs" transform="translate(793.20 612.30) scale(1 1.06)" font-family="'Liberation Sans', Arial, sans-serif" font-size="21.3" font-weight="400" text-anchor="middle">258,50 €</text>
<text textLength="68.79" lengthAdjust="spacingAndGlyphs" transform="translate(909.65 612.30) scale(1 1.06)" font-family="'Liberation Sans', Arial, sans-serif" font-size="21.3" font-weight="400" text-anchor="middle">27,5 <tspan dx="2.5">%</tspan></text>
<text textLength="21.70" lengthAdjust="spacingAndGlyphs" transform="translate(255.50 1321.00) scale(1 1.06)" font-family="Carlito, 'Liberation Sans', Arial, sans-serif" font-size="21.4" font-weight="400" text-anchor="middle">14</text>
<text textLength="41.44" lengthAdjust="spacingAndGlyphs" transform="translate(537.05 1322.30) scale(1 1.06)" font-family="'Liberation Sans', Arial, sans-serif" font-size="21.3" font-weight="400" text-anchor="middle">1,03</text>
<text textLength="100.64" lengthAdjust="spacingAndGlyphs" transform="translate(666.90 1322.30) scale(1 1.06)" font-family="'Liberation Sans', Arial, sans-serif" font-size="21.3" font-weight="400" text-anchor="middle">1 247,33 €</text>
<text textLength="21.70" lengthAdjust="spacingAndGlyphs" transform="translate(255.50 639.30) scale(1 1.06)" font-family="Carlito, 'Liberation Sans', Arial, sans-serif" font-size="21.4" font-weight="400" text-anchor="middle">15</text>
<text textLength="75.24" lengthAdjust="spacingAndGlyphs" transform="translate(386.45 639.30) scale(1 1.06)" font-family="Carlito, 'Liberation Sans', Arial, sans-serif" font-size="21.4" font-weight="400" text-anchor="middle">940,39 €</text>
<text textLength="41.44" lengthAdjust="spacingAndGlyphs" transform="translate(537.05 640.85) scale(1 1.06)" font-family="'Liberation Sans', Arial, sans-serif" font-size="21.3" font-weight="400" text-anchor="middle">1,00</text>
<text textLength="99.05" lengthAdjust="spacingAndGlyphs" transform="translate(666.90 640.85) scale(1 1.06)" font-family="'Liberation Sans', Arial, sans-serif" font-size="21.3" font-weight="400" text-anchor="middle">1 211,00 €</text>
<text textLength="82.88" lengthAdjust="spacingAndGlyphs" transform="translate(793.20 640.85) scale(1 1.06)" font-family="'Liberation Sans', Arial, sans-serif" font-size="21.3" font-weight="400" text-anchor="middle">270,61 €</text>
<text textLength="68.79" lengthAdjust="spacingAndGlyphs" transform="translate(909.65 640.85) scale(1 1.06)" font-family="'Liberation Sans', Arial, sans-serif" font-size="21.3" font-weight="400" text-anchor="middle">28,8 <tspan dx="2.5">%</tspan></text>
<text textLength="21.70" lengthAdjust="spacingAndGlyphs" transform="translate(255.50 1349.30) scale(1 1.06)" font-family="Carlito, 'Liberation Sans', Arial, sans-serif" font-size="21.4" font-weight="400" text-anchor="middle">15</text>
<text textLength="41.44" lengthAdjust="spacingAndGlyphs" transform="translate(537.05 1350.85) scale(1 1.06)" font-family="'Liberation Sans', Arial, sans-serif" font-size="21.3" font-weight="400" text-anchor="middle">1,04</text>
<text textLength="100.64" lengthAdjust="spacingAndGlyphs" transform="translate(666.90 1350.85) scale(1 1.06)" font-family="'Liberation Sans', Arial, sans-serif" font-size="21.3" font-weight="400" text-anchor="middle">1 259,44 €</text>
<text textLength="21.70" lengthAdjust="spacingAndGlyphs" transform="translate(255.50 667.60) scale(1 1.06)" font-family="Carlito, 'Liberation Sans', Arial, sans-serif" font-size="21.4" font-weight="400" text-anchor="middle">16</text>
<text textLength="75.24" lengthAdjust="spacingAndGlyphs" transform="translate(386.45 667.60) scale(1 1.06)" font-family="Carlito, 'Liberation Sans', Arial, sans-serif" font-size="21.4" font-weight="400" text-anchor="middle">940,39 €</text>
<text textLength="41.44" lengthAdjust="spacingAndGlyphs" transform="translate(537.05 669.40) scale(1 1.06)" font-family="'Liberation Sans', Arial, sans-serif" font-size="21.3" font-weight="400" text-anchor="middle">1,01</text>
<text textLength="99.05" lengthAdjust="spacingAndGlyphs" transform="translate(666.90 669.40) scale(1 1.06)" font-family="'Liberation Sans', Arial, sans-serif" font-size="21.3" font-weight="400" text-anchor="middle">1 223,11 €</text>
<text textLength="82.88" lengthAdjust="spacingAndGlyphs" transform="translate(793.20 669.40) scale(1 1.06)" font-family="'Liberation Sans', Arial, sans-serif" font-size="21.3" font-weight="400" text-anchor="middle">282,72 €</text>
<text textLength="68.79" lengthAdjust="spacingAndGlyphs" transform="translate(909.65 669.40) scale(1 1.06)" font-family="'Liberation Sans', Arial, sans-serif" font-size="21.3" font-weight="400" text-anchor="middle">30,1 <tspan dx="2.5">%</tspan></text>
<text textLength="21.70" lengthAdjust="spacingAndGlyphs" transform="translate(255.50 1377.60) scale(1 1.06)" font-family="Carlito, 'Liberation Sans', Arial, sans-serif" font-size="21.4" font-weight="400" text-anchor="middle">16</text>
<text textLength="41.44" lengthAdjust="spacingAndGlyphs" transform="translate(537.05 1379.40) scale(1 1.06)" font-family="'Liberation Sans', Arial, sans-serif" font-size="21.3" font-weight="400" text-anchor="middle">1,05</text>
<text textLength="100.64" lengthAdjust="spacingAndGlyphs" transform="translate(666.90 1379.40) scale(1 1.06)" font-family="'Liberation Sans', Arial, sans-serif" font-size="21.3" font-weight="400" text-anchor="middle">1 271,55 €</text>
<text textLength="21.70" lengthAdjust="spacingAndGlyphs" transform="translate(255.50 695.90) scale(1 1.06)" font-family="Carlito, 'Liberation Sans', Arial, sans-serif" font-size="21.4" font-weight="400" text-anchor="middle">17</text>
<text textLength="75.24" lengthAdjust="spacingAndGlyphs" transform="translate(386.45 695.90) scale(1 1.06)" font-family="Carlito, 'Liberation Sans', Arial, sans-serif" font-size="21.4" font-weight="400" text-anchor="middle">940,39 €</text>
<text textLength="41.44" lengthAdjust="spacingAndGlyphs" transform="translate(537.05 697.95) scale(1 1.06)" font-family="'Liberation Sans', Arial, sans-serif" font-size="21.3" font-weight="400" text-anchor="middle">1,02</text>
<text textLength="100.64" lengthAdjust="spacingAndGlyphs" transform="translate(666.90 697.95) scale(1 1.06)" font-family="'Liberation Sans', Arial, sans-serif" font-size="21.3" font-weight="400" text-anchor="middle">1 235,22 €</text>
<text textLength="82.88" lengthAdjust="spacingAndGlyphs" transform="translate(793.20 697.95) scale(1 1.06)" font-family="'Liberation Sans', Arial, sans-serif" font-size="21.3" font-weight="400" text-anchor="middle">294,83 €</text>
<text textLength="68.79" lengthAdjust="spacingAndGlyphs" transform="translate(909.65 697.95) scale(1 1.06)" font-family="'Liberation Sans', Arial, sans-serif" font-size="21.3" font-weight="400" text-anchor="middle">31,4 <tspan dx="2.5">%</tspan></text>
<text textLength="21.70" lengthAdjust="spacingAndGlyphs" transform="translate(255.50 1405.90) scale(1 1.06)" font-family="Carlito, 'Liberation Sans', Arial, sans-serif" font-size="21.4" font-weight="400" text-anchor="middle">17</text>
<text textLength="41.44" lengthAdjust="spacingAndGlyphs" transform="translate(537.05 1407.95) scale(1 1.06)" font-family="'Liberation Sans', Arial, sans-serif" font-size="21.3" font-weight="400" text-anchor="middle">1,06</text>
<text textLength="100.64" lengthAdjust="spacingAndGlyphs" transform="translate(666.90 1407.95) scale(1 1.06)" font-family="'Liberation Sans', Arial, sans-serif" font-size="21.3" font-weight="400" text-anchor="middle">1 283,66 €</text>
<text textLength="21.70" lengthAdjust="spacingAndGlyphs" transform="translate(255.50 724.20) scale(1 1.06)" font-family="Carlito, 'Liberation Sans', Arial, sans-serif" font-size="21.4" font-weight="400" text-anchor="middle">18</text>
<text textLength="75.24" lengthAdjust="spacingAndGlyphs" transform="translate(386.45 724.20) scale(1 1.06)" font-family="Carlito, 'Liberation Sans', Arial, sans-serif" font-size="21.4" font-weight="400" text-anchor="middle">940,39 €</text>
<text textLength="41.44" lengthAdjust="spacingAndGlyphs" transform="translate(537.05 726.50) scale(1 1.06)" font-family="'Liberation Sans', Arial, sans-serif" font-size="21.3" font-weight="400" text-anchor="middle">1,03</text>
<text textLength="100.64" lengthAdjust="spacingAndGlyphs" transform="translate(666.90 726.50) scale(1 1.06)" font-family="'Liberation Sans', Arial, sans-serif" font-size="21.3" font-weight="400" text-anchor="middle">1 247,33 €</text>
<text textLength="82.88" lengthAdjust="spacingAndGlyphs" transform="translate(793.20 726.50) scale(1 1.06)" font-family="'Liberation Sans', Arial, sans-serif" font-size="21.3" font-weight="400" text-anchor="middle">306,94 €</text>
<text textLength="68.79" lengthAdjust="spacingAndGlyphs" transform="translate(909.65 726.50) scale(1 1.06)" font-family="'Liberation Sans', Arial, sans-serif" font-size="21.3" font-weight="400" text-anchor="middle">32,6 <tspan dx="2.5">%</tspan></text>
<text textLength="21.70" lengthAdjust="spacingAndGlyphs" transform="translate(255.50 1434.20) scale(1 1.06)" font-family="Carlito, 'Liberation Sans', Arial, sans-serif" font-size="21.4" font-weight="400" text-anchor="middle">18</text>
<text textLength="41.44" lengthAdjust="spacingAndGlyphs" transform="translate(537.05 1436.50) scale(1 1.06)" font-family="'Liberation Sans', Arial, sans-serif" font-size="21.3" font-weight="400" text-anchor="middle">1,07</text>
<text textLength="100.64" lengthAdjust="spacingAndGlyphs" transform="translate(666.90 1436.50) scale(1 1.06)" font-family="'Liberation Sans', Arial, sans-serif" font-size="21.3" font-weight="400" text-anchor="middle">1 295,77 €</text>
<text textLength="21.70" lengthAdjust="spacingAndGlyphs" transform="translate(255.50 752.50) scale(1 1.06)" font-family="Carlito, 'Liberation Sans', Arial, sans-serif" font-size="21.4" font-weight="400" text-anchor="middle">19</text>
<text textLength="75.24" lengthAdjust="spacingAndGlyphs" transform="translate(386.45 752.50) scale(1 1.06)" font-family="Carlito, 'Liberation Sans', Arial, sans-serif" font-size="21.4" font-weight="400" text-anchor="middle">940,39 €</text>
<text textLength="41.44" lengthAdjust="spacingAndGlyphs" transform="translate(537.05 755.05) scale(1 1.06)" font-family="'Liberation Sans', Arial, sans-serif" font-size="21.3" font-weight="400" text-anchor="middle">1,04</text>
<text textLength="100.64" lengthAdjust="spacingAndGlyphs" transform="translate(666.90 755.05) scale(1 1.06)" font-family="'Liberation Sans', Arial, sans-serif" font-size="21.3" font-weight="400" text-anchor="middle">1 259,44 €</text>
<text textLength="82.88" lengthAdjust="spacingAndGlyphs" transform="translate(793.20 755.05) scale(1 1.06)" font-family="'Liberation Sans', Arial, sans-serif" font-size="21.3" font-weight="400" text-anchor="middle">319,05 €</text>
<text textLength="68.79" lengthAdjust="spacingAndGlyphs" transform="translate(909.65 755.05) scale(1 1.06)" font-family="'Liberation Sans', Arial, sans-serif" font-size="21.3" font-weight="400" text-anchor="middle">33,9 <tspan dx="2.5">%</tspan></text>
<text textLength="21.70" lengthAdjust="spacingAndGlyphs" transform="translate(255.50 1462.50) scale(1 1.06)" font-family="Carlito, 'Liberation Sans', Arial, sans-serif" font-size="21.4" font-weight="400" text-anchor="middle">19</text>
<text textLength="41.44" lengthAdjust="spacingAndGlyphs" transform="translate(537.05 1465.05) scale(1 1.06)" font-family="'Liberation Sans', Arial, sans-serif" font-size="21.3" font-weight="400" text-anchor="middle">1,08</text>
<text textLength="100.64" lengthAdjust="spacingAndGlyphs" transform="translate(666.90 1465.05) scale(1 1.06)" font-family="'Liberation Sans', Arial, sans-serif" font-size="21.3" font-weight="400" text-anchor="middle">1 307,88 €</text>
<text textLength="21.70" lengthAdjust="spacingAndGlyphs" transform="translate(255.50 780.80) scale(1 1.06)" font-family="Carlito, 'Liberation Sans', Arial, sans-serif" font-size="21.4" font-weight="400" text-anchor="middle">20</text>
<text textLength="75.24" lengthAdjust="spacingAndGlyphs" transform="translate(386.45 780.80) scale(1 1.06)" font-family="Carlito, 'Liberation Sans', Arial, sans-serif" font-size="21.4" font-weight="400" text-anchor="middle">940,39 €</text>
<text textLength="41.44" lengthAdjust="spacingAndGlyphs" transform="translate(537.05 783.00) scale(1 1.06)" font-family="'Liberation Sans', Arial, sans-serif" font-size="21.3" font-weight="400" text-anchor="middle">1,05</text>
<text textLength="100.64" lengthAdjust="spacingAndGlyphs" transform="translate(666.90 783.00) scale(1 1.06)" font-family="'Liberation Sans', Arial, sans-serif" font-size="21.3" font-weight="400" text-anchor="middle">1 271,55 €</text>
<text textLength="82.88" lengthAdjust="spacingAndGlyphs" transform="translate(793.20 783.00) scale(1 1.06)" font-family="'Liberation Sans', Arial, sans-serif" font-size="21.3" font-weight="400" text-anchor="middle">331,16 €</text>
<text textLength="68.79" lengthAdjust="spacingAndGlyphs" transform="translate(909.65 783.00) scale(1 1.06)" font-family="'Liberation Sans', Arial, sans-serif" font-size="21.3" font-weight="400" text-anchor="middle">35,2 <tspan dx="2.5">%</tspan></text>
<text textLength="21.70" lengthAdjust="spacingAndGlyphs" transform="translate(255.50 1490.80) scale(1 1.06)" font-family="Carlito, 'Liberation Sans', Arial, sans-serif" font-size="21.4" font-weight="400" text-anchor="middle">20</text>
<text textLength="41.44" lengthAdjust="spacingAndGlyphs" transform="translate(537.05 1493.00) scale(1 1.06)" font-family="'Liberation Sans', Arial, sans-serif" font-size="21.3" font-weight="400" text-anchor="middle">1,09</text>
<text textLength="100.64" lengthAdjust="spacingAndGlyphs" transform="translate(666.90 1493.00) scale(1 1.06)" font-family="'Liberation Sans', Arial, sans-serif" font-size="21.3" font-weight="400" text-anchor="middle">1 319,99 €</text>
<text textLength="98.47" lengthAdjust="spacingAndGlyphs" transform="translate(51.00 414.80) scale(1 1.06)" font-family="Carlito, 'Liberation Sans', Arial, sans-serif" font-size="21" font-weight="700" text-anchor="start">PRAKTICKÁ</text>
<text textLength="75.77" lengthAdjust="spacingAndGlyphs" transform="translate(51.00 440.30) scale(1 1.06)" font-family="Carlito, 'Liberation Sans', Arial, sans-serif" font-size="21" font-weight="700" text-anchor="start">SESTRA -</text>
<text textLength="82.79" lengthAdjust="spacingAndGlyphs" transform="translate(51.00 468.90) scale(1 1.06)" font-family="Carlito, 'Liberation Sans', Arial, sans-serif" font-size="21" font-weight="700" text-anchor="start">ASISTENT</text>
<text textLength="57.59" lengthAdjust="spacingAndGlyphs" transform="translate(51.00 494.80) scale(1 1.06)" font-family="Carlito, 'Liberation Sans', Arial, sans-serif" font-size="21" font-weight="400" text-anchor="start">Výkon:</text>
<text textLength="91.28" lengthAdjust="spacingAndGlyphs" transform="translate(51.00 521.20) scale(1 1.06)" font-family="Carlito, 'Liberation Sans', Arial, sans-serif" font-size="21" font-weight="400" text-anchor="start">odborných</text>
<text textLength="96.89" lengthAdjust="spacingAndGlyphs" transform="translate(51.00 546.00) scale(1 1.06)" font-family="Carlito, 'Liberation Sans', Arial, sans-serif" font-size="21" font-weight="400" text-anchor="start">pracovných</text>
<text textLength="66.48" lengthAdjust="spacingAndGlyphs" transform="translate(51.00 574.80) scale(1 1.06)" font-family="Carlito, 'Liberation Sans', Arial, sans-serif" font-size="21" font-weight="400" text-anchor="start">činností</text>
<text textLength="98.47" lengthAdjust="spacingAndGlyphs" transform="translate(51.00 1138.90) scale(1 1.06)" font-family="Carlito, 'Liberation Sans', Arial, sans-serif" font-size="21" font-weight="700" text-anchor="start">PRAKTICKÁ</text>
<text textLength="75.77" lengthAdjust="spacingAndGlyphs" transform="translate(51.00 1164.50) scale(1 1.06)" font-family="Carlito, 'Liberation Sans', Arial, sans-serif" font-size="21" font-weight="700" text-anchor="start">SESTRA -</text>
<text textLength="145.13" lengthAdjust="spacingAndGlyphs" transform="translate(51.00 1192.50) scale(1 1.06)" font-family="Carlito, 'Liberation Sans', Arial, sans-serif" font-size="21"><tspan font-weight="700">ASISTENT</tspan> Výkon:</text>
<text textLength="128.24" lengthAdjust="spacingAndGlyphs" transform="translate(51.00 1218.90) scale(1 1.06)" font-family="Carlito, 'Liberation Sans', Arial, sans-serif" font-size="21" font-weight="400" text-anchor="start">certifikovaných</text>
<text textLength="96.89" lengthAdjust="spacingAndGlyphs" transform="translate(51.00 1244.50) scale(1 1.06)" font-family="Carlito, 'Liberation Sans', Arial, sans-serif" font-size="21" font-weight="400" text-anchor="start">pracovných</text>
<text textLength="66.48" lengthAdjust="spacingAndGlyphs" transform="translate(51.00 1270.00) scale(1 1.06)" font-family="Carlito, 'Liberation Sans', Arial, sans-serif" font-size="21" font-weight="400" text-anchor="start">činností</text>
</svg>
</body></html>
